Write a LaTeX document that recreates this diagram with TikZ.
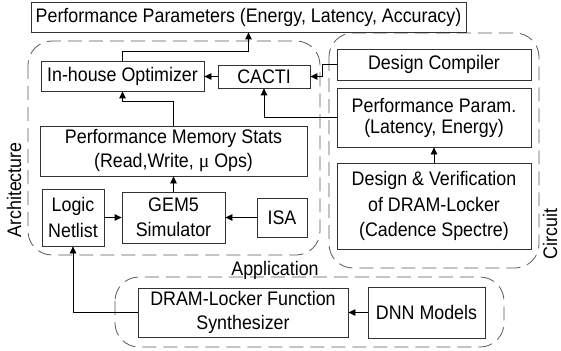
\documentclass[tikz,border=0pt]{standalone}
\usepackage{fontspec}
\setmainfont[FakeStretch=0.91]{Liberation Sans}
\newfontfamily\symfont{Liberation Serif}
\usepackage{tikz}
\usetikzlibrary{arrows.meta,calc}
\tikzset{Box/.style={draw=black!80,line width=0.8pt,inner sep=0pt,align=center,font=\fontsize{19.6}{24}\selectfont},
  Reg/.style={draw=black!65,line width=0.8pt,dash pattern=on 14pt off 7pt,rounded corners=24pt},
  Lbl/.style={inner sep=0pt,font=\fontsize{19.6}{24}\selectfont}}

\begin{document}
\begin{tikzpicture}[x=1pt,y=-1pt]
    \useasboundingbox (0,0) rectangle (561,350);
    \draw[Reg] (28,41) rectangle (320,255);
    \draw[Reg] (329,33) rectangle (539,268);
    \draw[Reg] (115,277) rectangle (504,347);
    \node[Box,minimum width=435,minimum height=30] (Par) at (248.5,17) {Performance Parameters (Energy, Latency, Accuracy)};
    \node[Box,minimum width=163,minimum height=30] (Opt) at (122.5,76) {In-house Optimizer};
    \node[Box,minimum width=92,minimum height=23] (Cac) at (264,76.5) {CACTI};
    \node[Box,minimum width=194,minimum height=31] (Dc) at (434,64.5) {Design Compiler};
    \node[Box,minimum width=194,minimum height=59,font=\fontsize{19.6}{21}\selectfont] (Pp) at (434,117.5) {Performance Param.\\(Latency, Energy)};
    \node[Box,minimum width=194,minimum height=86,font=\fontsize{19.6}{25.5}\selectfont] (Dv) at (434,206) {Design \& Verification\\of DRAM-Locker\\(Cadence Spectre)};
    \node[Box,minimum width=267,minimum height=50] (Pms) at (173.5,151) {Performance Memory Stats\\(Read,Write, {\symfont μ} Ops)};
    \node[Box,minimum width=62,minimum height=57,font=\fontsize{19.6}{26}\selectfont] (Ln) at (73,217.5) {Logic\\Netlist};
    \node[Box,minimum width=103,minimum height=51,font=\fontsize{19.6}{25}\selectfont] (Gem) at (173.5,217.5) {GEM5\\Simulator};
    \node[Box,minimum width=50,minimum height=39] (Isa) at (282,217.5) {ISA};
    \node[Box,minimum width=210,minimum height=49] (Syn) at (243,312.5) {DRAM-Locker Function\\Synthesizer};
    \node[Box,minimum width=117,minimum height=51] (Dnn) at (426.5,312.5) {DNN Models};
    \node[Lbl,rotate=90] (Arc) at (14,190) {Architecture};
    \node[Lbl,rotate=90] (Cir) at (550,234) {Circuit};
    \node[Lbl,anchor=base] (App) at (275,275) {Application};
    \begin{scope}[->,>={Triangle[length=7pt,width=6.5pt]},line width=0.8pt]
      \draw (Opt.north) -- ++(0,-9) -| (Par.south);
      \draw (Cac.west) -- (Cac.west -| Opt.east);
      \draw (Pms.north) -- ++(0,-24) -| (Opt.south);
      \draw (Pp.west) -| (Cac.south);
      \draw (Dc.west) -- ++(-14,0) |- (Cac.east);
      \draw (Dv.north) -- (Pp.south);
      \draw (Gem.north) -- (Pms.south);
      \draw (Ln.east) -- (Gem.west);
      \draw (Isa.west) -- (Gem.east);
      \draw (Syn.west) -| (Ln.south);
      \draw (Dnn.west) -- (Syn.east);
    \end{scope}
\end{tikzpicture}
\end{document}
